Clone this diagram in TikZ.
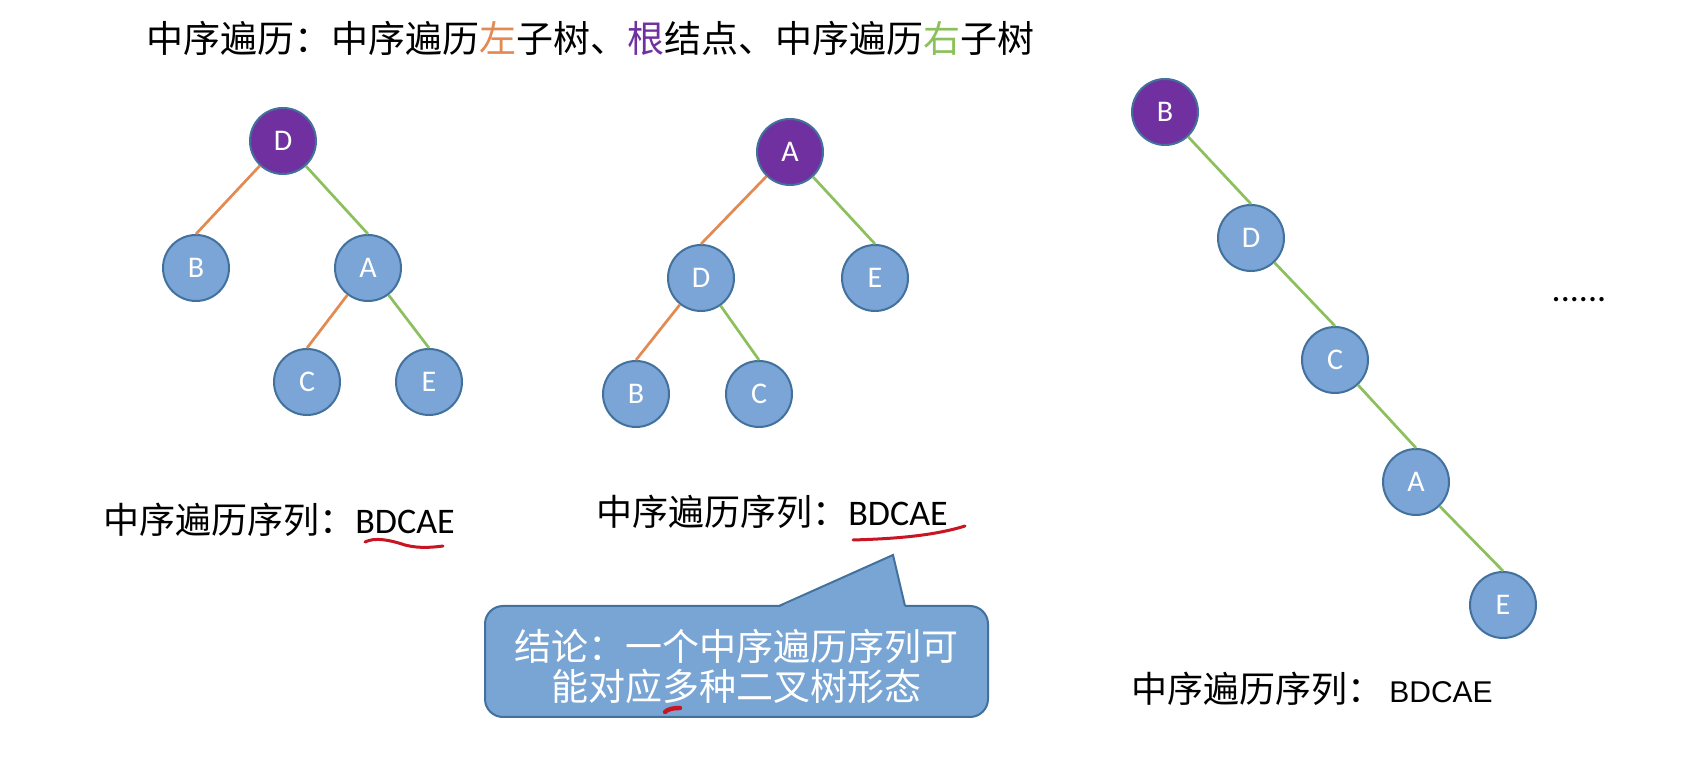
\documentclass[tikz,border=0pt]{standalone}
\usepackage{fontspec}
\setmainfont{Carlito}
\newfontfamily\cjk{Noto Sans CJK SC}
\definecolor{nodeblue}{RGB}{122,165,214}
\definecolor{nodeborder}{RGB}{65,113,156}
\definecolor{rootpurple}{RGB}{112,48,160}
\definecolor{leftorange}{RGB}{226,138,82}
\definecolor{rightgreen}{RGB}{140,192,92}
\definecolor{inkred}{RGB}{200,20,35}
\definecolor{calloutblue}{RGB}{120,165,212}
\tikzset{
  tnode/.style={circle, draw=nodeborder, line width=1pt, minimum size=33pt, inner sep=0pt, text=white, font=\fontsize{15pt}{15pt}\selectfont},
  bnode/.style={tnode, fill=nodeblue},
  rnode/.style={tnode, fill=rootpurple},
  ledge/.style={draw=leftorange, line width=1.35pt},
  redge/.style={draw=rightgreen, line width=1.35pt},
  label/.style={anchor=west, inner sep=0pt, font=\fontsize{18pt}{18pt}\selectfont},
  ink/.style={draw=inkred, line width=1.5pt, line cap=round, line join=round},
  callout/.style={fill=calloutblue, draw=nodeborder, line width=1pt},
}
\begin{document}
\begin{tikzpicture}[x=0.5pt,y=-0.5pt]
\useasboundingbox (0,0) rectangle (1694,758);
\fill[white] (0,0) rectangle (1694,758);

% title
\node[anchor=west, inner sep=0pt, font=\fontsize{18.5pt}{18.5pt}\selectfont\cjk] (title) at (146,38)
  {中序遍历：中序遍历\textcolor{leftorange}{左}子树、\textcolor{rootpurple}{根}结点、中序遍历\textcolor{rightgreen}{右}子树};

% tree 1
\node[rnode] (t1D) at (283,141) {D};
\node[bnode] (t1B) at (196,268) {B};
\node[bnode] (t1A) at (368,268) {A};
\node[bnode] (t1C) at (307,382) {C};
\node[bnode] (t1E) at (429,382) {E};
\draw[ledge] (t1D) -- (t1B.north);
\draw[redge] (t1D) -- (t1A.north);
\draw[ledge] (t1A) -- (t1C.north);
\draw[redge] (t1A) -- (t1E.north);

% tree 2
\node[rnode] (t2A) at (790,152) {A};
\node[bnode] (t2D) at (701,278) {D};
\node[bnode] (t2E) at (875,278) {E};
\node[bnode] (t2B) at (636,394) {B};
\node[bnode] (t2C) at (759,394) {C};
\draw[ledge] (t2A) -- (t2D.north);
\draw[redge] (t2A) -- (t2E.north);
\draw[ledge] (t2D) -- (t2B.north);
\draw[redge] (t2D) -- (t2C.north);

% tree 3
\node[rnode] (t3B) at (1165,112) {B};
\node[bnode] (t3D) at (1251,238) {D};
\node[bnode] (t3C) at (1335,360) {C};
\node[bnode] (t3A) at (1416,482) {A};
\node[bnode] (t3E) at (1503,605) {E};
\draw[redge] (t3B) -- (t3D.north);
\draw[redge] (t3D) -- (t3C.north);
\draw[redge] (t3C) -- (t3A.north);
\draw[redge] (t3A) -- (t3E.north);

\node[inner sep=0pt, font=\fontsize{18pt}{18pt}\selectfont] (dots) at (1579,300) {......};

% labels
\node[label] (lab1) at (103,520) {{\cjk 中序遍历序列：}BDCAE};
\node[label] (lab2) at (596,512) {{\cjk 中序遍历序列：}BDCAE};
\node[label] (lab3) at (1131,689) {{\cjk 中序遍历序列：}\,{\fontsize{15pt}{15pt}\selectfont\fontspec{Liberation Sans}BDCAE}};

% callout
\draw[callout, rounded corners=9pt] (485,606) rectangle (988,717);
\fill[calloutblue] (779,607.2) -- (893,555) -- (905,607.2) -- cycle;
\draw[draw=nodeborder, line width=1pt] (779,606) -- (893,555) -- (905,606);
\node[align=center, text=white, inner sep=0pt, font=\fontsize{18.5pt}{20pt}\selectfont\cjk] (msg) at (736,666)
  {结论：一个中序遍历序列可\\能对应多种二叉树形态};

% red ink marks
\draw[ink] (365,542) .. controls (375,537) and (390,540) .. (405,545) .. controls (420,549) and (435,547) .. (443,546);
\draw[ink] (853,540) .. controls (885,539) and (930,537) .. (965,526);
\draw[ink, line width=2.2pt] (665,712) .. controls (668,709) and (673,708) .. (680,708);
\end{tikzpicture}
\end{document}
